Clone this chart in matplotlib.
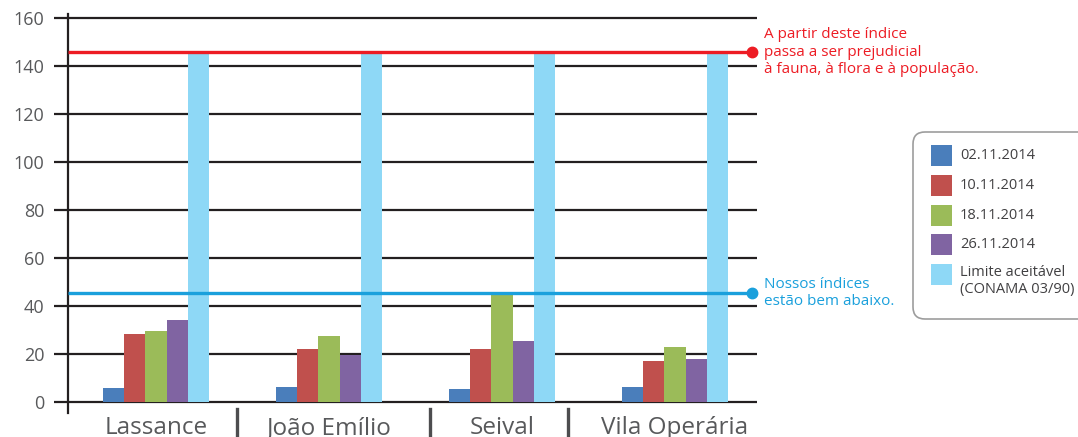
import matplotlib
matplotlib.use("Agg")
import matplotlib.pyplot as plt
from matplotlib.patches import FancyBboxPatch, Rectangle
from matplotlib.lines import Line2D
import numpy as np

plt.rcParams["font.family"] = ["Open Sans", "DejaVu Sans"]

W, H = 1078, 437

SITES = ["Lassance", "João Emílio", "Seival", "Vila Operária"]
DATES = ["02.11.2014", "10.11.2014", "18.11.2014", "26.11.2014"]
D_0211 = [5.8, 6.2, 5.4, 6.2]
D_1011 = [28.3, 22.1, 22.1, 17.1]
D_1811 = [29.6, 27.5, 44.6, 22.9]
D_2611 = [34.2, 19.6, 25.4, 17.9]
LIMIT = [145, 145, 145, 145]
LIMIT_LABEL = "Limite aceitável\n(CONAMA 03/90)"
HARM_LEVEL = 145.8
OUR_LEVEL = 45.4
HARM_TEXT = "A partir deste índice\npassa a ser prejudicial\nà fauna, à flora e à população."
OUR_TEXT = "Nossos índices\nestão bem abaixo."
YTICKS = [0, 20, 40, 60, 80, 100, 120, 140, 160]

COLORS = ["#4a7ebb", "#c0504d", "#9bbb59", "#8064a2", "#8ed8f6"]
RED = "#ed1c24"
BLUE = "#1aa0dc"
DARK = "#231f20"
GRAY = "#58595b"

series = [D_0211, D_1011, D_1811, D_2611, LIMIT]
labels = DATES + [LIMIT_LABEL]

fig = plt.figure(figsize=(W / 100, H / 100), dpi=100)
ax = fig.add_axes([68 / W, 24 / H, 689 / W, 399 / H])

x = np.arange(len(SITES))
bw = 0.123
for i, (vals, col) in enumerate(zip(series, COLORS)):
    ax.bar(x + (i - 2) * bw, vals, width=bw, color=col, zorder=2, linewidth=0)

ax.set_xlim(-0.508, 3.474)
ax.set_ylim(-4.6, 161.7)
ax.set_yticks(YTICKS)
ax.yaxis.grid(True, color=DARK, linewidth=1.6)
ax.set_axisbelow(True)
ax.tick_params(axis="y", length=10, width=1.6, color=DARK, labelcolor=GRAY,
               labelsize=13, pad=7)
ax.set_xticks(x)
ax.set_xticklabels(SITES)
ax.tick_params(axis="x", length=0, labelcolor=GRAY, labelsize=17.5, pad=2.5)
for s in ["top", "right", "bottom"]:
    ax.spines[s].set_visible(False)
ax.spines["left"].set_color(DARK)
ax.spines["left"].set_linewidth(1.6)

# reference lines with end dots
yt = ax.get_yaxis_transform()
for lvl, col, txt in [(HARM_LEVEL, RED, HARM_TEXT), (OUR_LEVEL, BLUE, OUR_TEXT)]:
    ax.plot([0, 0.993], [lvl, lvl], transform=yt, color=col, lw=2.4,
            clip_on=False, zorder=4, solid_capstyle="butt")
    ax.plot([0.993], [lvl], "o", transform=yt, color=col, ms=7.5,
            clip_on=False, zorder=4)
    ax.text(1.01, lvl, txt, transform=yt, color=col, fontsize=11,
            va="center", ha="left", linespacing=1.22)

# overlay in pixel coords
lay = fig.add_axes([0, 0, 1, 1])
lay.set_xlim(0, W)
lay.set_ylim(H, 0)
lay.axis("off")

lay.add_patch(FancyBboxPatch((913, 132), 200, 187,
                             boxstyle="round,pad=0,rounding_size=12",
                             fc="white", ec="#9d9d9d", lw=1.2))
for i, (lab, col) in enumerate(zip(labels, COLORS)):
    y0 = 145 + 29.8 * i
    lay.add_patch(Rectangle((931, y0), 21, 21, fc=col, ec="none"))
    if "\n" in lab:
        lay.text(960, y0 + 1, lab, color="#414042", fontsize=10.5,
                 va="top", ha="left", linespacing=1.2)
    else:
        lay.text(960, y0 + 10.5, lab, color="#414042", fontsize=10.5,
                 va="center", ha="left")

# separators between site labels
fig.canvas.draw()
r = fig.canvas.get_renderer()
boxes = [t.get_window_extent(r) for t in ax.get_xticklabels()]
for a, b in zip(boxes[:-1], boxes[1:]):
    mid = (a.x1 + b.x0) / 2
    lay.add_line(Line2D([mid, mid], [409, H], color="#4d4d4f", lw=2.4))

fig.savefig("out.png", dpi=100)
